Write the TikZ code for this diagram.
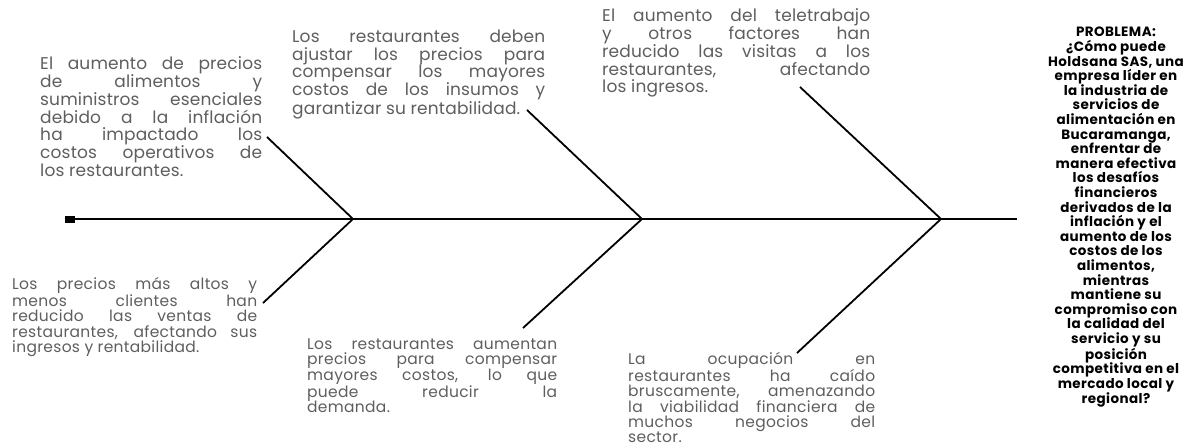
\documentclass[tikz,border=0pt]{standalone}
\usepackage{fontspec}
\newfontfamily\causefont[LetterSpace=1]{Poppins}
\newfontfamily\causefontb[LetterSpace=2]{Poppins}
\newfontfamily\probfont[LetterSpace=3]{Poppins}
\definecolor{causegray}{HTML}{5E5E5E}
\newcommand\JL[2]{\makebox[#1][s]{#2}}
\begin{document}
\begin{tikzpicture}[x=1pt,y=-1pt,
  bone/.style={line width=1.8pt,black},
  causetop/.style={inner sep=0pt,anchor=north west,align=left,text=causegray,
     font=\causefont\fontsize{17}{17.3}\selectfont},
  causebot/.style={inner sep=0pt,anchor=north west,align=left,text=causegray,
     font=\causefontb\fontsize{15.5}{15.6}\selectfont},
  causebotb/.style={causebot,font=\causefontb\fontsize{15.5}{15.3}\selectfont},
  probstyle/.style={inner sep=0pt,anchor=north,align=center,text=black,
     font=\probfont\bfseries\fontsize{13.5}{14.6}\selectfont}]
\useasboundingbox (0,0) rectangle (1195,446);
% spine
\coordinate (tail) at (70,219);
\coordinate (head) at (1017,219);
\coordinate (J1) at (353,219);
\coordinate (J2) at (642,219);
\coordinate (J3) at (941,219);
\coordinate (U1) at (267,137);
\coordinate (U2) at (527,110);
\coordinate (U3) at (800,87);
\coordinate (L1) at (263,303);
\coordinate (L2) at (523,328);
\coordinate (L3) at (797,353);
\draw[line width=1.6pt] (tail) -- (head);
\fill (65,216) rectangle (75,223);
\draw[bone] (U1) -- (J1);
\draw[bone] (L1) -- (J1);
\draw[bone] (U2) -- (J2);
\draw[bone] (L2) -- (J2);
\draw[bone] (U3) -- (J3);
\draw[bone] (L3) -- (J3);
% texts
\node[causetop] (t1) at (40,56) {\JL{222pt}{El aumento de precios}\\\JL{222pt}{de alimentos y}\\\JL{222pt}{suministros esenciales}\\\JL{222pt}{debido a la inflación}\\\JL{222pt}{ha impactado los}\\\JL{222pt}{costos operativos de}\\los restaurantes.};
\node[causetop] (t2) at (292,30) {\JL{253pt}{Los restaurantes deben}\\\JL{253pt}{ajustar los precios para}\\\JL{253pt}{compensar los mayores}\\\JL{253pt}{costos de los insumos y}\\garantizar su rentabilidad.};
\node[causetop] (t3) at (602,8) {\JL{268pt}{El aumento del teletrabajo}\\\JL{268pt}{y otros factores han}\\\JL{268pt}{reducido las visitas a los}\\\JL{268pt}{restaurantes, afectando}\\los ingresos.};
\node[causebot] (b1) at (12,277) {\JL{245pt}{Los precios más altos y}\\\JL{245pt}{menos clientes han}\\\JL{245pt}{reducido las ventas de}\\\JL{245pt}{restaurantes, afectando sus}\\ingresos y rentabilidad.};
\node[causebot] (b2) at (307,338) {\JL{250pt}{Los restaurantes aumentan}\\\JL{250pt}{precios para compensar}\\\JL{250pt}{mayores costos, lo que}\\\JL{250pt}{puede reducir la}\\demanda.};
\node[causebotb] (b3) at (628,352) {\JL{247pt}{La ocupación en}\\\JL{247pt}{restaurantes ha caído}\\\JL{247pt}{bruscamente, amenazando}\\\JL{247pt}{la viabilidad financiera de}\\\JL{247pt}{muchos negocios del}\\sector.};
\node[probstyle] (p) at (1116,27) {PROBLEMA:\\¿Cómo puede\\Holdsana SAS, una\\empresa líder en\\la industria de\\servicios de\\alimentación en\\Bucaramanga,\\enfrentar de\\manera efectiva\\los desafíos\\financieros\\derivados de la\\inflación y el\\aumento de los\\costos de los\\alimentos,\\mientras\\mantiene su\\compromiso con\\la calidad del\\servicio y su\\posición\\competitiva en el\\mercado local y\\regional?};
\end{tikzpicture}
\end{document}
